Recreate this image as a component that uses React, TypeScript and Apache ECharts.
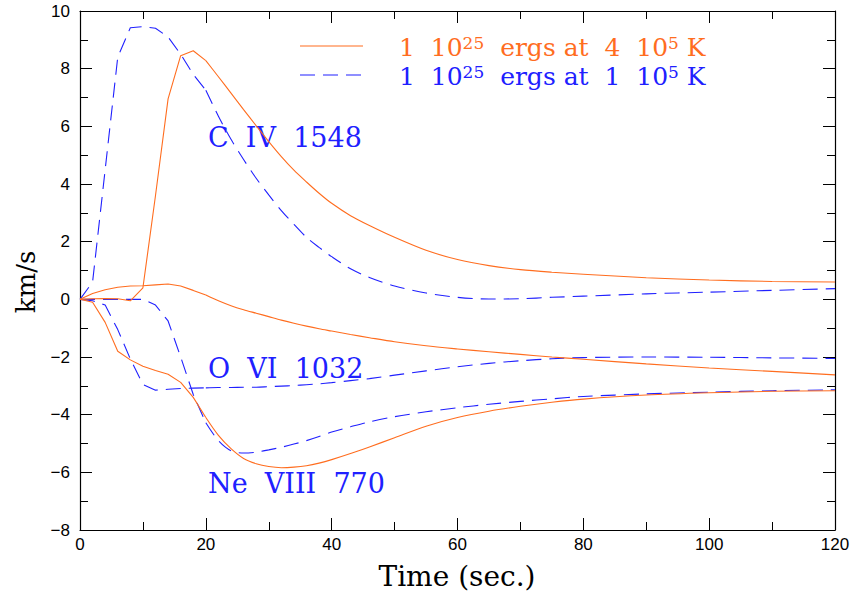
import React, { useEffect, useRef } from "react";
import * as echarts from "echarts";

const times = [0, 2, 4, 6, 8, 10, 12, 14, 16, 18, 20, 22, 24, 26, 28, 30, 32, 34, 36, 38, 40, 43, 46, 50, 55, 60, 65, 70, 75, 80, 90, 100, 110, 120];

// 1e25 ergs at 4e5 K (orange, solid)
const civHot = [0, 0.02, 0.03, 0.02, -0.05, 0.4, 3.6, 6.95, 8.45, 8.62, 8.28, 7.72, 7.15, 6.58, 6.02, 5.47, 4.95, 4.48, 4.07, 3.68, 3.33, 2.9, 2.56, 2.15, 1.7, 1.38, 1.17, 1.03, 0.94, 0.87, 0.75, 0.67, 0.62, 0.6];
const oviHot = [0, 0.2, 0.33, 0.42, 0.46, 0.47, 0.5, 0.53, 0.46, 0.31, 0.15, -0.05, -0.22, -0.36, -0.48, -0.6, -0.72, -0.83, -0.93, -1.02, -1.1, -1.22, -1.33, -1.47, -1.61, -1.72, -1.82, -1.91, -2.0, -2.08, -2.24, -2.38, -2.5, -2.62];
const ne8Hot = [0, -0.1, -0.8, -1.8, -2.1, -2.32, -2.47, -2.6, -2.88, -3.4, -4.1, -4.72, -5.18, -5.52, -5.7, -5.8, -5.84, -5.82, -5.77, -5.68, -5.56, -5.35, -5.12, -4.8, -4.4, -4.1, -3.88, -3.71, -3.57, -3.46, -3.32, -3.24, -3.19, -3.17];

// 1e25 ergs at 1e5 K (blue, dashed)
const civCool = [0, 0.6, 4.5, 8.4, 9.42, 9.46, 9.4, 9.1, 8.5, 7.8, 7.25, 6.35, 5.55, 4.85, 4.2, 3.62, 3.08, 2.6, 2.15, 1.8, 1.48, 1.06, 0.76, 0.46, 0.22, 0.07, 0.01, 0.02, 0.07, 0.11, 0.19, 0.25, 0.31, 0.37];
const oviCool = [0, -0.05, -0.2, -1.05, -2.07, -2.95, -3.15, -3.12, -3.09, -3.08, -3.07, -3.06, -3.06, -3.05, -3.05, -3.03, -3.01, -2.99, -2.96, -2.93, -2.89, -2.82, -2.75, -2.63, -2.48, -2.34, -2.22, -2.13, -2.06, -2.02, -2.0, -2.01, -2.03, -2.05];
const ne8Cool = [0, 0, 0, 0, 0, 0, -0.2, -0.75, -2.0, -3.3, -4.28, -4.9, -5.25, -5.33, -5.3, -5.22, -5.13, -5.02, -4.9, -4.76, -4.6, -4.42, -4.25, -4.07, -3.9, -3.76, -3.64, -3.54, -3.45, -3.37, -3.28, -3.22, -3.17, -3.14];

const lineLabels = ["C  IV  1548", "O  VI  1032", "Ne  VIII  770"];
const xTitle = "Time (sec.)";
const yTitle = "km/s";

const ORANGE = "#ff6d1f";
const BLUE = "#2020ff";
const SPLIT_T = 20;

const pairs = (vals: number[]) => times.map((t, i) => [t, vals[i]]);

export default function App() {
  const ref = useRef<HTMLDivElement>(null);
  useEffect(() => {
    if (!ref.current) return;
    const chart = echarts.init(ref.current, null, { renderer: "svg" });
    const tickFont = { fontFamily: "Liberation Sans", fontSize: 17, color: "#000" };
    const baseX = {
      type: "value" as const,
      min: 0,
      max: 120,
      interval: 20,
      splitLine: { show: false },
      axisLine: { show: true, onZero: false, lineStyle: { color: "#000", width: 1.2 } },
      axisTick: { show: true, inside: true, length: 12, lineStyle: { color: "#000", width: 1 } },
      minorTick: { show: true, splitNumber: 2, length: 8, lineStyle: { color: "#000", width: 1 } },
    };
    const baseY = {
      type: "value" as const,
      min: -8,
      max: 10,
      interval: 2,
      splitLine: { show: false },
      axisLine: { show: true, onZero: false, lineStyle: { color: "#000", width: 1.2 } },
      axisTick: { show: true, inside: true, length: 12, lineStyle: { color: "#000", width: 1 } },
      minorTick: { show: true, splitNumber: 2, length: 8, lineStyle: { color: "#000", width: 1 } },
    };
    // early (piecewise linear) part and late (smooth) part of each curve
    const mk = (name: string, vals: number[], color: string, dashed: boolean) => {
      const all = pairs(vals);
      const style = { color, width: 1.1, type: dashed ? [15, 8] : "solid" };
      const common = {
        type: "line",
        showSymbol: false,
        symbol: "none",
        xAxisIndex: 0,
        yAxisIndex: 0,
        lineStyle: style,
        z: dashed ? 3 : 4,
      };
      return [
        { ...common, name: name + "-early", data: all.filter((p) => p[0] <= SPLIT_T) },
        { ...common, name: name + "-late", data: all.filter((p) => p[0] >= SPLIT_T), smooth: 0.3 },
      ];
    };
    const legendRich = (color: string) => ({
      a: { fontFamily: "DejaVu Serif", fontSize: 25, fill: color, color },
      s: { fontFamily: "DejaVu Serif", fontSize: 17, fill: color, color, verticalAlign: "top" },
    });
    const labelText = (text: string, y: number) => ({
      type: "text",
      x: 208,
      y,
      style: { text, fontFamily: "DejaVu Serif", fontSize: 27, fill: BLUE, verticalAlign: "middle", align: "left" },
    });
    chart.setOption({
      animation: false,
      grid: { left: 80, right: 18, top: 11, bottom: 62, containLabel: false },
      xAxis: [
        { ...baseX, position: "bottom", axisLabel: { ...tickFont, margin: 6 } },
        { ...baseX, position: "top", axisLabel: { show: false } },
      ],
      yAxis: [
        {
          ...baseY,
          position: "left",
          axisLabel: { ...tickFont, margin: 10, formatter: (v: number) => String(v).replace("-", "\u2212") },
        },
        { ...baseY, position: "right", axisLabel: { show: false } },
      ],
      series: [
        ...mk("civCool", civCool, BLUE, true),
        ...mk("oviCool", oviCool, BLUE, true),
        ...mk("ne8Cool", ne8Cool, BLUE, true),
        ...mk("civHot", civHot, ORANGE, false),
        ...mk("oviHot", oviHot, ORANGE, false),
        ...mk("ne8Hot", ne8Hot, ORANGE, false),
      ],
      graphic: [
        { type: "line", shape: { x1: 300, y1: 46, x2: 363, y2: 46 }, style: { stroke: ORANGE, lineWidth: 1.2 } },
        { type: "line", shape: { x1: 300, y1: 75, x2: 363, y2: 75 }, style: { stroke: BLUE, lineWidth: 1.2, lineDash: [15, 8] } },
        {
          type: "text",
          x: 399,
          y: 47,
          style: {
            text: "{a|1  10}{s|25}{a|  ergs at  4  10}{s|5}{a| K}",
            rich: legendRich(ORANGE),
            verticalAlign: "middle",
            align: "left",
            fill: ORANGE,
          },
        },
        {
          type: "text",
          x: 399,
          y: 76,
          style: {
            text: "{a|1  10}{s|25}{a|  ergs at  1  10}{s|5}{a| K}",
            rich: legendRich(BLUE),
            verticalAlign: "middle",
            align: "left",
            fill: BLUE,
          },
        },
        labelText(lineLabels[0], 137),
        labelText(lineLabels[1], 368),
        labelText(lineLabels[2], 483),
        {
          type: "text",
          x: 457,
          y: 576,
          style: { text: xTitle, fontFamily: "DejaVu Serif", fontSize: 28, fill: "#000", verticalAlign: "middle", align: "center" },
        },
        {
          type: "text",
          x: 26,
          y: 282,
          rotation: Math.PI / 2,
          style: { text: yTitle, fontFamily: "DejaVu Serif", fontSize: 26, fill: "#000", verticalAlign: "middle", align: "center" },
        },
      ],
    });
    return () => chart.dispose();
  }, []);
  return <div ref={ref} style={{ position: "fixed", left: 0, top: 0, width: 853, height: 592, background: "#fff" }} />;
}
